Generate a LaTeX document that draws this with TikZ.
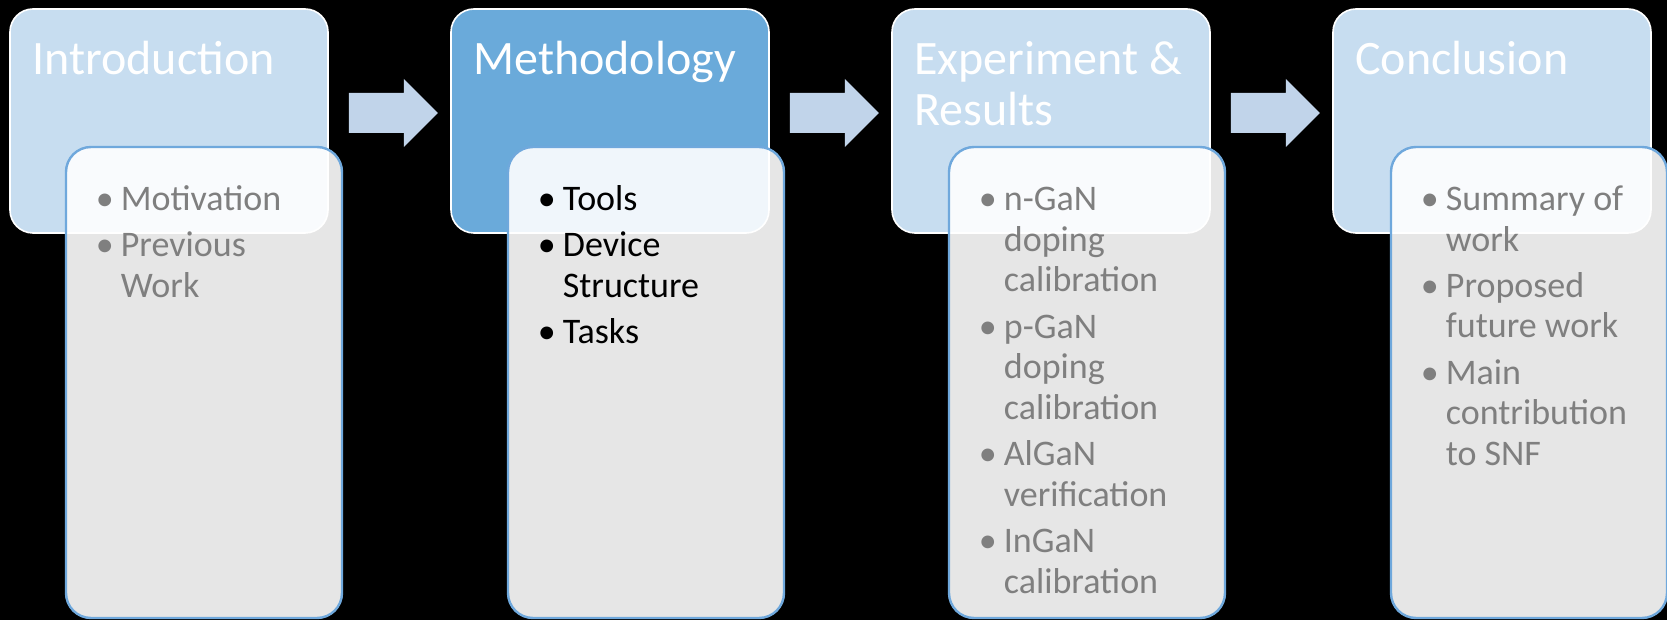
\documentclass[tikz,border=0pt]{standalone}
\usepackage{fontspec}
\setmainfont{Carlito}
\usetikzlibrary{calc}
\definecolor{stagelight}{HTML}{C7DDF0}
\definecolor{stagedark}{HTML}{6AAADA}
\definecolor{arrowblue}{HTML}{C1D4EA}
\definecolor{panelline}{HTML}{6FA8DC}
\definecolor{bodygray}{HTML}{7F7F7F}
% bullet hung 8pt to the left of the item text
\newcommand{\bul}{\llap{\makebox[0pt][c]{\textbullet}\hspace{8pt}}}
\newcommand{\firstline}[1]{\rule{0pt}{#1}}
\newcommand{\nextitem}{\\[2.9pt]}
\begin{document}
\begin{tikzpicture}[x=0.5pt,y=-0.5pt,
  stagebox/.style={rounded corners=11.5pt, draw=white, line width=0.8pt,
    minimum width=159pt, minimum height=112pt, inner sep=0pt},
  panel/.style={rounded corners=12.5pt, draw=panelline, line width=1.2pt,
    fill=white, fill opacity=0.9, minimum width=138pt, minimum height=235.5pt,
    inner sep=0pt},
  title/.style={anchor=north west, inner sep=0pt, text=white,
    font=\fontsize{24}{25.5}\selectfont, align=left},
  body/.style={anchor=north west, inner sep=0pt, text=bodygray,
    font=\fontsize{18}{20.3}\selectfont, align=left},
  blockarrow/.pic={\fill[arrowblue] (0,-20) -- (55,-20) -- (55,-34) -- (89,0)
    -- (55,34) -- (55,20) -- (0,20) -- cycle;}
]
\fill[black] (0,0) rectangle (1667,620);
\useasboundingbox (0,0) rectangle (1667,620);

% stage headers
\node[stagebox, fill=stagelight] (intro) at (169,121) {};
\node[stagebox, fill=stagedark]  (meth)  at (610,121) {};
\node[stagebox, fill=stagelight] (exp)   at (1051,121) {};
\node[stagebox, fill=stagelight] (concl) at (1492,121) {};

% block arrows between the stages
\path (intro.east) ++(20,-8) pic {blockarrow};
\path (meth.east)  ++(20,-8) pic {blockarrow};
\path (exp.east)   ++(20,-8) pic {blockarrow};

% detail panels
\node[panel] (intro-panel) at (204,382.5) {};
\node[panel] (meth-panel)  at (646,382.5) {};
\node[panel] (exp-panel)   at (1087,382.5) {};
\node[panel] (concl-panel) at (1529,382.5) {};

% stage titles
\node[title] (intro-title) at (32,30) {\firstline{22pt}Introduction};
\node[title] (meth-title)  at (473,30) {\firstline{22pt}Methodology};
\node[title] (exp-title)   at (914,30) {\firstline{22pt}Experiment \&\\Results};
\node[title] (concl-title) at (1355,30) {\firstline{22pt}Conclusion};

% bullet lists
\node[body] (intro-list) at (120.5,178)
  {\firstline{16pt}\bul Motivation\nextitem\bul Previous\\Work};
\node[body, text=black] (meth-list) at (562.5,178)
  {\firstline{16pt}\bul Tools\nextitem\bul Device\\Structure\nextitem\bul Tasks};
\node[body] (exp-list) at (1003.5,178)
  {\firstline{16pt}\bul n-GaN\\doping\\calibration\nextitem\bul p-GaN\\doping\\calibration\nextitem\bul AlGaN\\verification\nextitem\bul InGaN\\calibration};
\node[body] (concl-list) at (1445.5,178)
  {\firstline{16pt}\bul Summary of\\work\nextitem\bul Proposed\\future work\nextitem\bul Main\\contribution\\to SNF};
\end{tikzpicture}
\end{document}
